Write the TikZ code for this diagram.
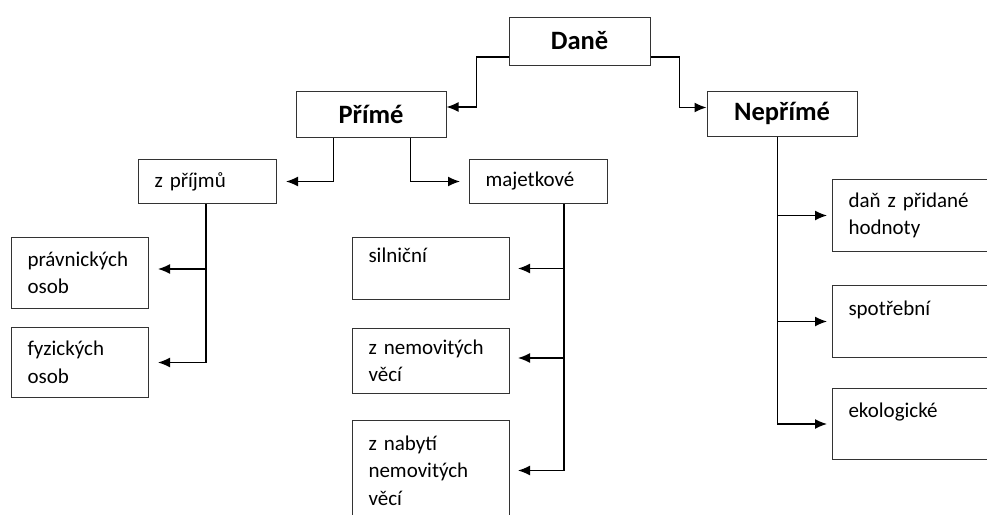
\documentclass[tikz,border=0pt]{standalone}
\usepackage{fontspec}
\setmainfont{Carlito}
\usepackage{tikz}
\usetikzlibrary{arrows.meta}
\tikzstyle{topbox} = [rectangle, draw=black!80, line width=1pt, minimum width=150pt, minimum height=46pt, text centered, font=\bfseries\fontsize{26.5}{30}\selectfont]
\tikzstyle{midbox} = [rectangle, draw=black!80, line width=1pt, anchor=north west, text width=106pt, inner xsep=16pt, minimum height=44pt, align=left, font=\fontsize{21}{27.5}\selectfont]
\tikzstyle{leaf} = [rectangle, draw=black!80, line width=1pt, anchor=north west, inner xsep=16pt, align=left, font=\fontsize{21}{27.5}\selectfont]
\tikzstyle{arrow} = [line width=1.4pt,->,>={Latex[length=12pt,width=10pt]}]

\begin{document}
\begin{tikzpicture}[x=1pt, y=-1pt]
      \useasboundingbox[fill=white] (0,0) rectangle (987,514);
      \clip (0,0) rectangle (987,514);
      \node (dane) [topbox, minimum width=141pt, minimum height=48pt] at (579.5,41) {Daně};
      \node (prime) [topbox] at (371,114) {Přímé};
      \node (neprime) [topbox, minimum height=45pt] at (782,113.5) {Nepřímé};
      \draw [arrow] ([yshift=-16pt]dane.west) -- ++(-32,0) |- ([yshift=7pt]prime.east);
      \draw [arrow] ([yshift=-16pt]dane.east) -- ++(29,0) |- ([yshift=6pt]neprime.west);
      % primé dane
      \node (prijmy) [midbox] at (138,159) {z příjmů};
      \node (majetkove) [midbox] at (469,159) {majetkové};
      \draw [arrow, shorten >=9pt] ([xshift=-37.5pt]prime.south) |- (prijmy.east);
      \draw [arrow, shorten >=9pt] ([xshift=39.5pt]prime.south) |- (majetkove.west);
      \node (pravnicke) [leaf, text width=105pt, minimum height=71pt] at (11,237) {právnických\\osob};
      \node (fyzicke) [leaf, text width=105pt, minimum height=70pt] at (11,327) {fyzických\\osob};
      \draw [arrow, shorten >=9pt] ([xshift=-1.5pt]prijmy.south) |- (fyzicke.east);
      \draw [arrow, shorten >=9pt] ([xshift=-1.5pt]prijmy.south |- pravnicke.east) ++(0,-4) -- ([yshift=4pt]pravnicke.east);
      \node (silnicni) [leaf, text width=125pt, minimum height=62pt] at (352,237) {silniční\\\mbox{}};
      \node (nemovite) [leaf, text width=125pt, minimum height=65pt] at (352,328) {z nemovitých\\věcí};
      \node (nabyti) [leaf, text width=125pt, minimum height=100pt] at (352,420) {z nabytí\\nemovitých\\věcí};
      \draw [arrow, shorten >=8pt] ([xshift=25.5pt]majetkove.south) |- (nabyti.east);
      \draw [arrow, shorten >=8pt] ([xshift=25.5pt]majetkove.south |- silnicni.east) -- (silnicni.east);
      \draw [arrow, shorten >=8pt] ([xshift=25.5pt]majetkove.south |- nemovite.east) ++(0,-3) -- ([yshift=3pt]nemovite.east);
      % neprime dane
      \node (dph) [leaf, text width=125pt, minimum height=72pt] at (832,179) {daň z přidané\\hodnoty};
      \node (spotreba) [leaf, text width=125pt, minimum height=72pt] at (832,285) {spotřební\\\mbox{}};
      \node (ekolog) [leaf, text width=125pt, minimum height=71pt] at (832,388) {ekologické\\\mbox{}};
      \draw [arrow, shorten >=5pt] ([xshift=-4.5pt]neprime.south) |- (ekolog.west);
      \draw [arrow, shorten >=5pt] ([xshift=-4.5pt]neprime.south |- dph.west) -- (dph.west);
      \draw [arrow, shorten >=5pt] ([xshift=-4.5pt]neprime.south |- spotreba.west) -- (spotreba.west);
\end{tikzpicture}
\end{document}
